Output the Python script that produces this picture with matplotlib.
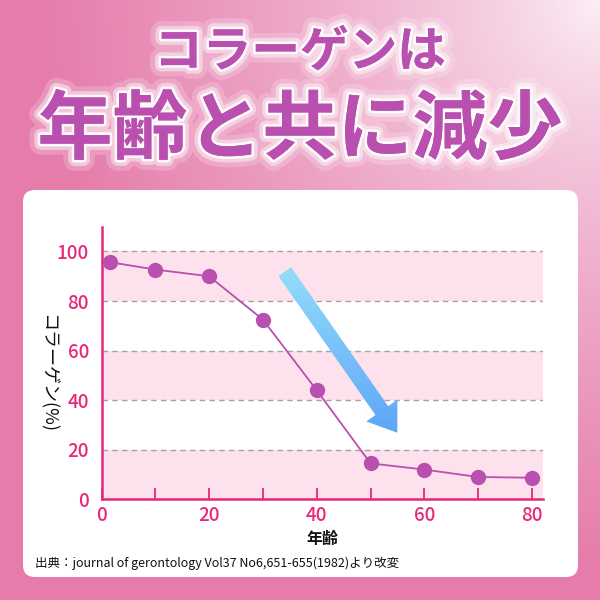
import numpy as np
import matplotlib
matplotlib.use("Agg")
import matplotlib.pyplot as plt
import matplotlib.patheffects as pe
from matplotlib.patches import FancyBboxPatch, Polygon

plt.rcParams['font.family'] = ['Noto Sans CJK JP', 'DejaVu Sans']

# data
ages = [1.5, 10, 20, 30, 40, 50, 60, 70, 80]
collagen = [95.7, 92.7, 90.0, 72.5, 44.0, 14.5, 12.0, 9.0, 8.7]
x_major = [0, 20, 40, 60, 80]
x_minor = [10, 30, 50, 70]
y_ticks = [0, 20, 40, 60, 80, 100]
pink_bands = [(0, 20), (40, 60), (80, 100)]

title1 = "コラーゲンは"
title2 = "年齢と共に減少"
ylabel = "コラーゲン(%)"
xlabel = "年齢"
source = "出典：journal of gerontology Vol37 No6,651-655(1982)より改変"

PINK = "#e8267a"
PURPLE = "#b94fae"

fig = plt.figure(figsize=(6, 6), dpi=100)

# background canvas in pixel coords
bg = fig.add_axes([0, 0, 1, 1], zorder=0)
bg.set_xlim(0, 600)
bg.set_ylim(600, 0)
bg.axis("off")

yy, xx = np.mgrid[0:600, 0:600]
d = np.hypot(xx - 600, yy) / 560.0
t = np.clip(d, 0, 1) ** 0.75
light = np.array([0.99, 0.95, 0.975])
pink = np.array([0.90, 0.49, 0.675])
img = light * (1 - t[..., None]) + pink * t[..., None]
bg.imshow(img, extent=(0, 600, 600, 0), aspect="auto")

panel = FancyBboxPatch((23, 190), 555, 387, boxstyle="round,pad=0,rounding_size=12",
                       facecolor="white", edgecolor="none")
bg.add_patch(panel)

glow = [pe.withStroke(linewidth=16, foreground="white", alpha=0.2),
        pe.withStroke(linewidth=9, foreground="white", alpha=0.45),
        pe.withStroke(linewidth=4, foreground="white", alpha=0.9),
        pe.Normal()]
bg.text(300, 52, title1, ha="center", va="center", fontsize=35, fontweight="bold",
        color=PURPLE, path_effects=glow)
bg.text(300, 131, title2, ha="center", va="center", fontsize=54, fontweight="bold",
        color=PURPLE, path_effects=glow)
bg.text(35, 563, source, ha="left", va="center", fontsize=9, color="#111111")

# chart
ax = fig.add_axes([101.5 / 600, 100.7 / 600, 441.2 / 600, 272.6 / 600], zorder=1)
ax.patch.set_alpha(0)
for lo, hi in pink_bands:
    ax.axhspan(lo, hi, color="#fde1ed", lw=0, zorder=0)
for v in y_ticks[1:]:
    ax.axhline(v, color="#a8a0a4", lw=1, ls=(0, (4, 3)), zorder=1)

ax.plot(ages, collagen, color=PURPLE, lw=1.3, marker="o", markersize=10,
        markerfacecolor=PURPLE, markeredgecolor=PURPLE, zorder=3)

ax.set_xlim(0, 82)
ax.set_ylim(0, 110)
ax.set_xticks(x_major)
ax.set_xticks(x_minor, minor=True)
ax.set_yticks(y_ticks)
ax.tick_params(axis="x", which="both", direction="in", length=8, width=1.3,
               color=PINK, labelcolor=PINK, labelsize=13.5, pad=5)
ax.tick_params(axis="y", length=0, labelcolor=PINK, labelsize=13.5, pad=9)
for lab in ax.get_xticklabels() + ax.get_yticklabels():
    lab.set_fontweight("medium")
for s in ["top", "right"]:
    ax.spines[s].set_visible(False)
for s in ["left", "bottom"]:
    ax.spines[s].set_color(PINK)
    ax.spines[s].set_linewidth(1.8)
ax.set_xlabel(xlabel, fontsize=11.5, fontweight="bold", color="#111111", labelpad=4)
ax.set_ylabel(ylabel, fontsize=13, color="#111111", rotation=270, va="bottom")
ax.yaxis.set_label_coords(-0.145, 0.46)

# gradient arrow on an overlay canvas
ov = fig.add_axes([0, 0, 1, 1], zorder=2)
ov.set_xlim(0, 600)
ov.set_ylim(600, 0)
ov.axis("off")
ov.patch.set_alpha(0)

tail = np.array([284.8, 271.7])
tip = np.array([397.3, 432.7])
u = (tip - tail) / np.linalg.norm(tip - tail)
n = np.array([-u[1], u[0]])
shaft_w, head_w, head_l = 15.5, 38.0, 27.0
base = tip - u * head_l
pts = [tail + n * shaft_w / 2, base + n * shaft_w / 2, base + n * head_w / 2, tip,
       base - n * head_w / 2, base - n * shaft_w / 2, tail - n * shaft_w / 2]
arrow = Polygon(pts, closed=True, facecolor="none", edgecolor="none")
ov.add_patch(arrow)
c_top = np.array([0.58, 0.87, 0.98])
c_bot = np.array([0.36, 0.64, 0.97])
g = np.linspace(0, 1, 200)[:, None, None]
grad = c_top * (1 - g) + c_bot * g
grad = np.repeat(grad, 2, axis=1)
im = ov.imshow(grad, extent=(270, 410, 440, 265), aspect="auto", zorder=3)
im.set_clip_path(arrow)

fig.savefig("out.png", dpi=100)
